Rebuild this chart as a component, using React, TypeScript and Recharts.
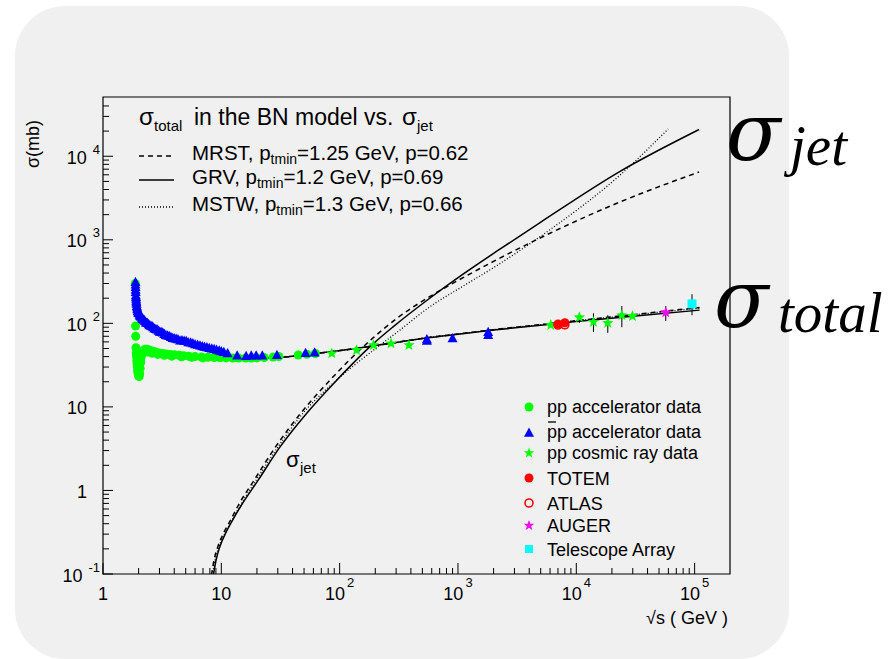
import React from 'react';
import { ComposedChart, XAxis, YAxis, Line, Scatter, ErrorBar, ReferenceArea } from 'recharts';

const W = 895;
const H = 659;
const SANS = '"Liberation Sans", Arial, Helvetica, sans-serif';
const SERIF = '"DejaVu Serif", "Liberation Serif", serif';
const SERIF2 = '"Liberation Serif", "Times New Roman", serif';

const X_MIN = 1;
const X_MAX = 1.99e5;
const Y_MIN = 0.1;
const Y_MAX = 51200;

// pp accelerator data (green circles)
const ppAccSqrtS = [1.877, 1.885, 1.89, 1.9, 1.91, 1.92, 1.93, 1.94, 1.95, 1.96, 1.98, 2.0, 2.02, 2.04, 2.06, 2.08, 2.1, 2.13, 2.17, 2.22, 2.28, 2.35, 2.45, 2.55, 2.7, 2.85, 3.0, 3.2, 3.4, 3.7, 4.0, 4.4, 4.8, 5.3, 6.0, 6.8, 7.7, 8.7, 9.8, 11, 12.5, 14, 16, 18, 20, 23, 27.4, 30.6, 44.7, 52.8, 62.3];
const ppAccSigma = [300, 93, 70, 51, 44, 40, 36, 33, 30, 27, 25, 23.5, 23, 25, 29, 34, 39, 43, 46, 48, 49, 49, 48, 47, 46, 45, 44, 43.5, 43, 42.5, 42, 41.5, 41, 40.5, 40, 39.5, 39.3, 39, 38.8, 38.6, 38.5, 38.4, 38.4, 38.5, 38.6, 39, 39.5, 40.1, 41.8, 42.7, 43.6];
const ppAccExtraS = [2.25, 2.4, 2.6, 2.9, 3.3, 3.8, 4.6, 5.6, 7.0];
const ppAccExtraSigma = [45, 45.5, 44, 42.5, 41.5, 40.5, 39.8, 39.2, 38.6];

// pbar-p accelerator data (blue triangles)
const pbarpSqrtS = [1.88, 1.885, 1.89, 1.9, 1.91, 1.92, 1.94, 1.96, 1.98, 2.0, 2.04, 2.08, 2.13, 2.19, 2.26, 2.34, 2.43, 2.54, 2.65, 2.8, 2.95, 3.1, 3.3, 3.5, 3.75, 4.0, 4.3, 4.65, 5.05, 5.5, 6.0, 6.6, 7.2, 7.9, 8.7, 9.6, 10.5, 11.3, 13.6, 16.2, 17.9, 19.7, 22.2, 29.5, 51.5, 61.5, 546, 546, 900, 1800, 1800];
const pbarpSigma = [310, 270, 235, 205, 185, 170, 155, 145, 138, 132, 126, 121, 116, 111, 106, 101, 97, 93, 89, 85, 81, 78, 74, 71, 68, 66, 64, 62.5, 61, 58.5, 56, 54, 52, 50.5, 49, 47, 45, 43.5, 41, 40.5, 41, 41, 41, 41.5, 44, 44.5, 61.5, 64, 66, 72, 78];
const pbarpExtraS = [1.883, 1.887, 1.895, 1.905, 1.915, 1.93, 1.95, 1.97, 1.99, 2.02, 2.06, 2.1, 2.16, 2.22, 2.3, 2.38, 2.48, 2.6, 2.72, 2.87, 3.02, 3.2, 3.4, 3.62, 3.88, 4.15, 4.48, 4.85, 5.25, 5.75, 6.3, 6.9, 7.55, 8.3, 9.1, 10];
const pbarpExtraSigma = [290, 250, 215, 195, 178, 160, 148, 140, 133, 131, 122, 120, 112, 110, 102, 100, 94, 92, 86, 84, 79, 77, 72, 70, 66.5, 65, 62, 61.5, 59, 57.5, 55, 53, 51.5, 49.5, 48, 46];

// pp cosmic ray data (green stars)
const cosmicSqrtS = [85.8, 139, 193, 272, 385, 6080, 10620, 13960, 18450, 24250, 29800];
const cosmicSigma = [43.6, 47.8, 54.8, 57.4, 54.8, 95.3, 118, 104, 101, 125, 122];
const cosmicErrLo = [0, 0, 0, 0, 0, 2, 17, 25, 24, 35, 3];
const cosmicErrHi = [0, 0, 0, 0, 0, 2, 14, 28, 24, 36, 3];

const totemSqrtS = [7000, 8000];
const totemSigma = [98.3, 101.7];
const atlasSqrtS = [7000, 8000];
const atlasSigma = [95.4, 96.1];
const augerSqrtS = [57000];
const augerSigma = [135];
const augerErr = [[28, 26]];
const taSqrtS = [95000];
const taSigma = [171];
const taErr = [[46, 52]];

// sigma_jet curves
const grvJetS = [8.57, 9.02, 9.75, 10.96, 12.56, 14.68, 20.43, 31.35, 52.7, 94.5, 191.5, 282.6, 580.8, 1104, 2128, 4943, 23440, 109100];
const grvJetSigma = [0.097, 0.146, 0.215, 0.316, 0.452, 0.656, 1.32, 3.32, 8.41, 20.9, 56.8, 90.8, 201, 388, 730, 1607, 6590, 20900];
const mrstJetS = [8.25, 8.67, 9.37, 10.54, 12.08, 13.84, 18.89, 28.73, 46.9, 81.3, 191.5, 304, 580.8, 1104, 2128, 4943, 23440, 109100];
const mrstJetSigma = [0.097, 0.146, 0.215, 0.316, 0.452, 0.656, 1.32, 3.32, 8.41, 20.3, 67.0, 114.5, 210, 352, 578, 1052, 2838, 6486];
const mstwJetS = [8.41, 8.85, 9.56, 10.86, 12.44, 14.39, 19.65, 30.14, 49.06, 87.9, 219.4, 304, 580.8, 1104, 2128, 4064, 6010, 23440, 59700];
const mstwJetSigma = [0.097, 0.146, 0.215, 0.316, 0.452, 0.656, 1.32, 3.32, 8.41, 19.2, 54.8, 77.8, 158.5, 279, 491, 900, 1325, 5956, 21180];

// sigma_total curves (BN model)
const totS = [10, 15, 20, 36, 50, 83, 150, 322, 581, 1000, 2000, 6010, 10000, 30000, 110000];
const grvTotSigma = [38.5, 38, 38.5, 39.7, 42, 45.6, 51, 60, 67.8, 74, 83, 97.7, 105, 122, 144];
const mrstTotSigma = [38.5, 38, 38.5, 39.7, 42, 45.6, 51, 60, 68, 74.5, 84, 99.5, 107.5, 127, 155];
const mstwTotSigma = [38.5, 38, 38.5, 39.7, 42, 45.6, 51, 60, 68, 74.5, 84, 99, 107, 126, 152];

// axes
const xMajorTicks = [1, 10, 100, 1000, 10000, 100000];
const xTickLabels = [['1', ''], ['10', ''], ['10', '2'], ['10', '3'], ['10', '4'], ['10', '5']];
const yMajorTicks = [0.1, 1, 10, 100, 1000, 10000];
const yTickLabels = [['10', '-1'], ['1', ''], ['10', ''], ['10', '2'], ['10', '3'], ['10', '4']];
const minorSteps = [2, 3, 4, 5, 6, 7, 8, 9];

const withMinor = (majors: number[], max: number) => {
  const out: number[] = [];
  majors.forEach((m) => {
    out.push(m);
    minorSteps.forEach((k) => {
      const v = m * k;
      if (v < max) out.push(v);
    });
  });
  return out;
};
const xTicks = withMinor(xMajorTicks, X_MAX);
const yTicks = withMinor(yMajorTicks, 45000);

const pts = (xs: number[], ys: number[]) => xs.map((x, i) => ({ x, y: ys[i] }));
const ptsErr = (xs: number[], ys: number[], err: number[][]) =>
  xs.map((x, i) => ({ x, y: ys[i], err: err[i] }));

const GREEN = '#00ff00';
const BLUE = '#0000ff';
const RED = '#ff0000';
const MAGENTA = '#ff00ff';
const CYAN = '#00ffff';

const isMajor = (v: number) => {
  const l = Math.log10(v);
  return Math.abs(l - Math.round(l)) < 1e-6;
};

function starPoints(cx: number, cy: number, R: number) {
  const r = R * 0.42;
  const p: string[] = [];
  for (let i = 0; i < 10; i++) {
    const a = (-90 + i * 36) * (Math.PI / 180);
    const rr = i % 2 === 0 ? R : r;
    p.push(`${cx + rr * Math.cos(a)},${cy + rr * Math.sin(a)}`);
  }
  return p.join(' ');
}

function Marker({ kind, cx, cy, color, size }: { kind: string; cx: number; cy: number; color: string; size: number }) {
  if (cx == null || cy == null) return null;
  if (kind === 'circle') return <circle cx={cx} cy={cy} r={size} fill={color} />;
  if (kind === 'open') return <circle cx={cx} cy={cy} r={size} fill="none" stroke={color} strokeWidth={1.6} />;
  if (kind === 'tri')
    return (
      <polygon
        points={`${cx},${cy - size * 1.1} ${cx - size},${cy + size * 0.75} ${cx + size},${cy + size * 0.75}`}
        fill={color}
      />
    );
  if (kind === 'star') return <polygon points={starPoints(cx, cy, size)} fill={color} />;
  if (kind === 'square') return <rect x={cx - size} y={cy - size} width={size * 2} height={size * 2} fill={color} />;
  return null;
}

const shape = (kind: string, color: string, size: number) => (p: any) => (
  <Marker kind={kind} cx={p.cx} cy={p.cy} color={color} size={size} />
);

function XTick(props: any) {
  const { x, y, payload } = props;
  const v = payload.value;
  const major = isMajor(v);
  const idx = xMajorTicks.findIndex((m) => Math.abs(m - v) < 1e-9 * m);
  const lab = idx >= 0 ? xTickLabels[idx] : null;
  return (
    <g>
      <line x1={x} x2={x} y1={y} y2={y - (major ? 11 : 6)} stroke="#000" strokeWidth={1} />
      {lab && (
        <text x={x} y={y + 26} textAnchor="middle" fontFamily={SANS} fontSize={18} fill="#000">
          {lab[0]}
          {lab[1] && (
            <tspan dx={2} dy={-13} fontSize={13}>
              {lab[1]}
            </tspan>
          )}
        </text>
      )}
    </g>
  );
}

function YTick(props: any) {
  const { x, y, payload } = props;
  const v = payload.value;
  const major = isMajor(v);
  const idx = yMajorTicks.findIndex((m) => Math.abs(m - v) < 1e-9 * m);
  const lab = idx >= 0 ? yTickLabels[idx] : null;
  return (
    <g>
      <line x1={x} x2={x + (major ? 10 : 6)} y1={y} y2={y} stroke="#000" strokeWidth={1} />
      {lab && (
        <text
          x={lab[1] ? x - 3 : x - 16}
          y={y + 7.5}
          textAnchor="end"
          fontFamily={SANS}
          fontSize={18}
          fill="#000"
        >
          {lab[0]}
          {lab[1] && (
            <tspan dx={6} dy={-10} fontSize={13}>
              {lab[1]}
            </tspan>
          )}
        </text>
      )}
    </g>
  );
}

const lineLegend = [
  { name: 'MRST', pt: '1.25', p: '0.62', dash: '5 4', y: 156 },
  { name: 'GRV', pt: '1.2', p: '0.69', dash: undefined, y: 180 },
  { name: 'MSTW', pt: '1.3', p: '0.66', dash: '1 2', y: 207 },
];

const dataLegend = [
  { kind: 'circle', color: GREEN, size: 4.5, label: 'pp accelerator data', cy: 407, base: 413 },
  { kind: 'tri', color: BLUE, size: 5, label: 'pp accelerator data', cy: 433, base: 438, bar: true },
  { kind: 'star', color: GREEN, size: 5.5, label: 'pp cosmic ray data', cy: 453, base: 459 },
  { kind: 'circle', color: RED, size: 4.5, label: 'TOTEM', cy: 478, base: 485 },
  { kind: 'open', color: RED, size: 4, label: 'ATLAS', cy: 503, base: 510 },
  { kind: 'star', color: MAGENTA, size: 5.5, label: 'AUGER', cy: 525.5, base: 532 },
  { kind: 'square', color: CYAN, size: 4, label: 'Telescope Array', cy: 549, base: 556 },
];

const lineProps = { type: 'monotone' as const, stroke: '#000', dot: false, isAnimationActive: false, dataKey: 'y' };

export default function App() {
  return (
    <div style={{ position: 'absolute', left: 0, top: 0, width: W, height: H, background: '#ffffff', overflow: 'hidden' }}>
      <div
        style={{
          position: 'absolute',
          left: 15,
          top: 6,
          width: 774,
          height: 653,
          background: '#f0f0f0',
          borderRadius: 50,
        }}
      />
      <div style={{ position: 'absolute', left: 0, top: 0 }}>
        <ComposedChart width={W} height={H} margin={{ top: 97, right: 165, bottom: 0, left: 0 }}>
          <XAxis
            dataKey="x"
            type="number"
            scale="log"
            domain={[X_MIN, X_MAX]}
            allowDataOverflow
            ticks={xTicks}
            interval={0}
            tick={<XTick />}
            tickLine={false}
            axisLine={false}
            tickSize={0}
            tickMargin={0}
            height={85}
          />
          <YAxis
            dataKey="y"
            type="number"
            scale="log"
            domain={[Y_MIN, Y_MAX]}
            allowDataOverflow
            ticks={yTicks}
            interval={0}
            tick={<YTick />}
            tickLine={false}
            axisLine={false}
            tickSize={0}
            tickMargin={0}
            width={103}
          />
          <ReferenceArea
            x1={X_MIN}
            x2={X_MAX}
            y1={Y_MIN}
            y2={Y_MAX}
            fill="none"
            fillOpacity={0}
            stroke="#000"
            strokeWidth={1.2}
            ifOverflow="visible"
          />
          <Line {...lineProps} data={pts(mrstJetS, mrstJetSigma)} strokeWidth={1.5} strokeDasharray="5 4" />
          <Line {...lineProps} data={pts(grvJetS, grvJetSigma)} strokeWidth={1.5} />
          <Line {...lineProps} data={pts(mstwJetS, mstwJetSigma)} strokeWidth={1.3} strokeDasharray="1 2" />
          <Line {...lineProps} data={pts(totS, mrstTotSigma)} strokeWidth={1.5} strokeDasharray="5 4" />
          <Line {...lineProps} data={pts(totS, mstwTotSigma)} strokeWidth={1.3} strokeDasharray="1 2" />
          <Line {...lineProps} data={pts(totS, grvTotSigma)} strokeWidth={1.5} />
          <Scatter data={pts(ppAccSqrtS, ppAccSigma)} dataKey="y" shape={shape('circle', GREEN, 4.5)} isAnimationActive={false} />
          <Scatter data={pts(ppAccExtraS, ppAccExtraSigma)} dataKey="y" shape={shape('circle', GREEN, 4.5)} isAnimationActive={false} />
          <Scatter data={pts(pbarpSqrtS, pbarpSigma)} dataKey="y" shape={shape('tri', BLUE, 5)} isAnimationActive={false} />
          <Scatter data={pts(pbarpExtraS, pbarpExtraSigma)} dataKey="y" shape={shape('tri', BLUE, 5)} isAnimationActive={false} />
          <Scatter
            data={ptsErr(cosmicSqrtS, cosmicSigma, cosmicErrLo.map((lo, i) => [lo, cosmicErrHi[i]]))}
            dataKey="y"
            shape={shape('star', GREEN, 6)}
            isAnimationActive={false}
          >
            <ErrorBar dataKey="err" direction="y" width={0} stroke="#000" strokeWidth={1} isAnimationActive={false} />
          </Scatter>
          <Scatter data={pts(totemSqrtS, totemSigma)} dataKey="y" shape={shape('circle', RED, 4.5)} isAnimationActive={false} />
          <Scatter data={pts(atlasSqrtS, atlasSigma)} dataKey="y" shape={shape('open', RED, 4)} isAnimationActive={false} />
          <Scatter data={ptsErr(augerSqrtS, augerSigma, augerErr)} dataKey="y" shape={shape('star', MAGENTA, 6)} isAnimationActive={false}>
            <ErrorBar dataKey="err" direction="y" width={0} stroke="#000" strokeWidth={1} isAnimationActive={false} />
          </Scatter>
          <Scatter data={ptsErr(taSqrtS, taSigma, taErr)} dataKey="y" shape={shape('square', CYAN, 4.5)} isAnimationActive={false}>
            <ErrorBar dataKey="err" direction="y" width={0} stroke="#000" strokeWidth={1} isAnimationActive={false} />
          </Scatter>
        </ComposedChart>
      </div>
      <svg width={W} height={H} style={{ position: 'absolute', left: 0, top: 0, pointerEvents: 'none' }}>
        <g fontFamily={SANS} fill="#000">
          {/* axis titles */}
          <text x={0} y={0} fontSize={18} textAnchor="end" transform="translate(39,120) rotate(-90)">
            σ(mb)
          </text>
          <text x={728} y={624} fontSize={18} textAnchor="end">
            √s ( GeV )
          </text>

          {/* title legend */}
          <text x={139} y={125} fontSize={24}>σ</text>
          <text x={154} y={131} fontSize={15}>total</text>
          <text x={194} y={125} fontSize={23}>in the BN model vs.</text>
          <text x={402} y={125} fontSize={24}>σ</text>
          <text x={417} y={131} fontSize={15}>jet</text>
          {lineLegend.map((l) => (
            <g key={l.name}>
              <line x1={139} x2={174} y1={l.y} y2={l.y} stroke="#000" strokeWidth={1.5} strokeDasharray={l.dash} />
              <text x={192} y={l.y + 4} fontSize={20.5}>
                {l.name}, p
                <tspan dy={4} fontSize={14}>tmin</tspan>
                <tspan dy={-4}>={l.pt} GeV, p={l.p}</tspan>
              </text>
            </g>
          ))}

          {/* data legend */}
          {dataLegend.map((d, i) => (
            <g key={i}>
              <Marker kind={d.kind} cx={529} cy={d.cy} color={d.color} size={d.size} />
              <text x={547} y={d.base} fontSize={18}>{d.label}</text>
              {d.bar && <line x1={548} x2={556} y1={422} y2={422} stroke="#000" strokeWidth={1.3} />}
            </g>
          ))}

          {/* sigma_jet annotation */}
          <text x={286} y={467} fontSize={22}>σ</text>
          <text x={300} y={473} fontSize={15}>jet</text>
        </g>
        <g fill="#000" fontStyle="italic">
          <text x={726} y={160} fontSize={80} fontFamily={SERIF}>σ</text>
          <text x={790} y={165} fontSize={57} fontFamily={SERIF2}>jet</text>
          <text x={714} y={327} fontSize={80} fontFamily={SERIF}>σ</text>
          <text x={778} y={332} fontSize={57} fontFamily={SERIF2}>total</text>
        </g>
      </svg>
    </div>
  );
}
